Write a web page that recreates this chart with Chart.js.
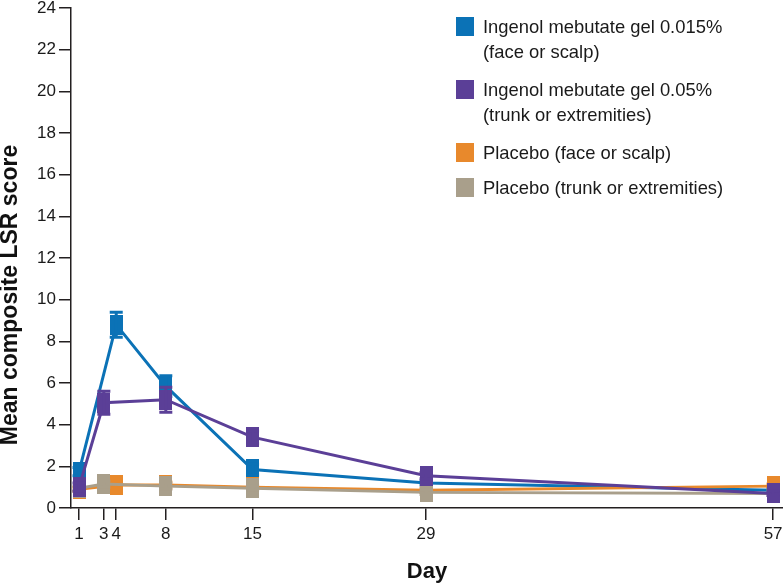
<!DOCTYPE html>
<html lang="en">
<head>
    <meta charset="UTF-8">
    <title>Mean composite LSR score by day</title>
    <script src="https://cdn.jsdelivr.net/npm/chart.js"></script>
    <style>
        body {
            margin: 0;
            background: #fff;
            font-family: "Liberation Sans", Arial, sans-serif;
        }
        #wrap {
            position: relative;
            width: 783px;
            height: 583px;
        }
        .legend-item {
            position: absolute;
            left: 456px;
            font-size: 18.4px;
            line-height: 25px;
            color: #1a1a1a;
        }
        .legend-item .box {
            position: absolute;
            left: 0;
            top: 3px;
            width: 18px;
            height: 19px;
        }
        .legend-item .txt {
            margin-left: 27px;
            white-space: nowrap;
        }
    </style>
</head>
<body>
<div id="wrap">
    <canvas id="lsrChart" width="783" height="583"></canvas>
    <div id="legend"></div>
</div>

<script>
    // days assessed: face/scalp groups and trunk/extremity groups
    const daysFace = [1, 4, 8, 15, 29, 57];
    const daysTrunk = [1, 3, 8, 15, 29, 57];
    const xTickDays = [1, 3, 4, 8, 15, 29, 57];

    const gel015 = [1.75, 8.8, 5.85, 1.85, 1.2, 0.85];
    const gel015Err = [0.2, 0.6, 0.5, 0.25, 0.1, 0.1];
    const gel05 = [1.0, 5.05, 5.2, 3.4, 1.55, 0.7];
    const gel05Err = [0.2, 0.55, 0.6, 0.3, 0.15, 0.1];
    const placeboFace = [0.9, 1.1, 1.1, 1.0, 0.85, 1.05];
    const placeboFaceErr = [0.1, 0.15, 0.15, 0.1, 0.1, 0.1];
    const placeboTrunk = [0.95, 1.15, 1.05, 0.95, 0.75, 0.7];
    const placeboTrunkErr = [0.1, 0.15, 0.15, 0.1, 0.1, 0.1];

    const seriesLabels = [
        ['Ingenol mebutate gel 0.015%', '(face or scalp)'],
        ['Ingenol mebutate gel 0.05%', '(trunk or extremities)'],
        ['Placebo (face or scalp)'],
        ['Placebo (trunk or extremities)']
    ];
    const colors = ['#0b72b6', '#5b3f97', '#e8892c', '#a99f8b'];

    // rectangular marker (taller than wide, like the original)
    function marker(color) {
        const c = document.createElement('canvas');
        c.width = 13;
        c.height = 20;
        const g = c.getContext('2d');
        g.fillStyle = color;
        g.fillRect(0, 0, 13, 20);
        return c;
    }

    function pts(days, vals) {
        return days.map((d, i) => ({ x: d, y: vals[i] }));
    }

    function makeSet(i, days, vals, errs, order) {
        return {
            label: seriesLabels[i].join(' '),
            data: pts(days, vals),
            errors: errs,
            borderColor: colors[i],
            backgroundColor: colors[i],
            borderWidth: 3,
            pointStyle: marker(colors[i]),
            pointRadius: 10,
            tension: 0,
            order: order
        };
    }

    // error bars drawn right after each dataset so stacking matches
    const errorBars = {
        id: 'errorBars',
        afterDatasetDraw(chart, args) {
            const ds = chart.data.datasets[args.index];
            const yScale = chart.scales.y;
            const ctx = chart.ctx;
            ctx.save();
            ctx.strokeStyle = ds.borderColor;
            ctx.lineWidth = 3;
            args.meta.data.forEach((pt, j) => {
                const v = ds.data[j].y, e = ds.errors[j];
                const top = yScale.getPixelForValue(v + e);
                const bot = yScale.getPixelForValue(v - e);
                ctx.beginPath();
                ctx.moveTo(pt.x, top); ctx.lineTo(pt.x, bot);
                ctx.moveTo(pt.x - 6.5, top); ctx.lineTo(pt.x + 6.5, top);
                ctx.moveTo(pt.x - 6.5, bot); ctx.lineTo(pt.x + 6.5, bot);
                ctx.stroke();
            });
            ctx.restore();
        }
    };

    const axisTitles = {
        id: 'axisTitles',
        afterDraw(chart) {
            const ctx = chart.ctx;
            ctx.save();
            ctx.fillStyle = '#111';
            ctx.font = 'bold 23px "Liberation Sans", Arial, sans-serif';
            ctx.textAlign = 'center';
            ctx.textBaseline = 'middle';
            ctx.translate(11, 295);
            ctx.rotate(-Math.PI / 2);
            ctx.fillText('Mean composite LSR score', 0, 0);
            ctx.restore();

            ctx.save();
            ctx.fillStyle = '#111';
            ctx.font = 'bold 22px "Liberation Sans", Arial, sans-serif';
            ctx.textAlign = 'center';
            ctx.textBaseline = 'alphabetic';
            const a = chart.chartArea;
            ctx.fillText('Day', (a.left + a.right) / 2, 578);
            ctx.restore();
        }
    };

    const tickFont = { family: '"Liberation Sans", Arial, sans-serif', size: 17 };

    new Chart(document.getElementById('lsrChart'), {
        type: 'line',
        data: {
            datasets: [
                makeSet(0, daysFace, gel015, gel015Err, 3),
                makeSet(1, daysTrunk, gel05, gel05Err, 0),
                makeSet(2, daysFace, placeboFace, placeboFaceErr, 2),
                makeSet(3, daysTrunk, placeboTrunk, placeboTrunkErr, 1)
            ]
        },
        options: {
            responsive: false,
            animation: false,
            devicePixelRatio: 1,
            layout: { autoPadding: false, padding: { top: 8, left: 0, right: 0, bottom: 0 } },
            plugins: {
                legend: { display: false },
                tooltip: { enabled: false }
            },
            scales: {
                x: {
                    type: 'linear',
                    min: 0.35,
                    max: 57.8,
                    afterBuildTicks(scale) {
                        scale.ticks = xTickDays.map(v => ({ value: v }));
                    },
                    afterFit(scale) {
                        scale.height = 75;
                        scale.paddingLeft = 0;
                        scale.paddingRight = 0;
                    },
                    grid: { drawOnChartArea: false, drawTicks: true, tickLength: 12, color: '#231f20', lineWidth: 1.5 },
                    border: { display: true, color: '#231f20', width: 1.5 },
                    ticks: { color: '#1a1a1a', font: tickFont, padding: 4, maxRotation: 0, autoSkip: false }
                },
                y: {
                    min: 0,
                    max: 24,
                    afterFit(scale) {
                        scale.width = 71;
                        scale.paddingTop = 0;
                        scale.paddingBottom = 0;
                    },
                    grid: { drawOnChartArea: false, drawTicks: true, tickLength: 12, color: '#231f20', lineWidth: 1.5 },
                    border: { display: true, color: '#231f20', width: 1.5 },
                    ticks: { stepSize: 2, color: '#1a1a1a', font: tickFont, padding: 3 }
                }
            }
        },
        plugins: [errorBars, axisTitles]
    });

    // html legend with two-line labels
    const legendTops = [14, 77, 140, 175];
    const legendEl = document.getElementById('legend');
    seriesLabels.forEach((lines, i) => {
        const item = document.createElement('div');
        item.className = 'legend-item';
        item.style.top = legendTops[i] + 'px';
        item.innerHTML = '<span class="box" style="background:' + colors[i] + '"></span>' +
            '<div class="txt">' + lines.join('<br>') + '</div>';
        legendEl.appendChild(item);
    });
</script>
</body>
</html>
